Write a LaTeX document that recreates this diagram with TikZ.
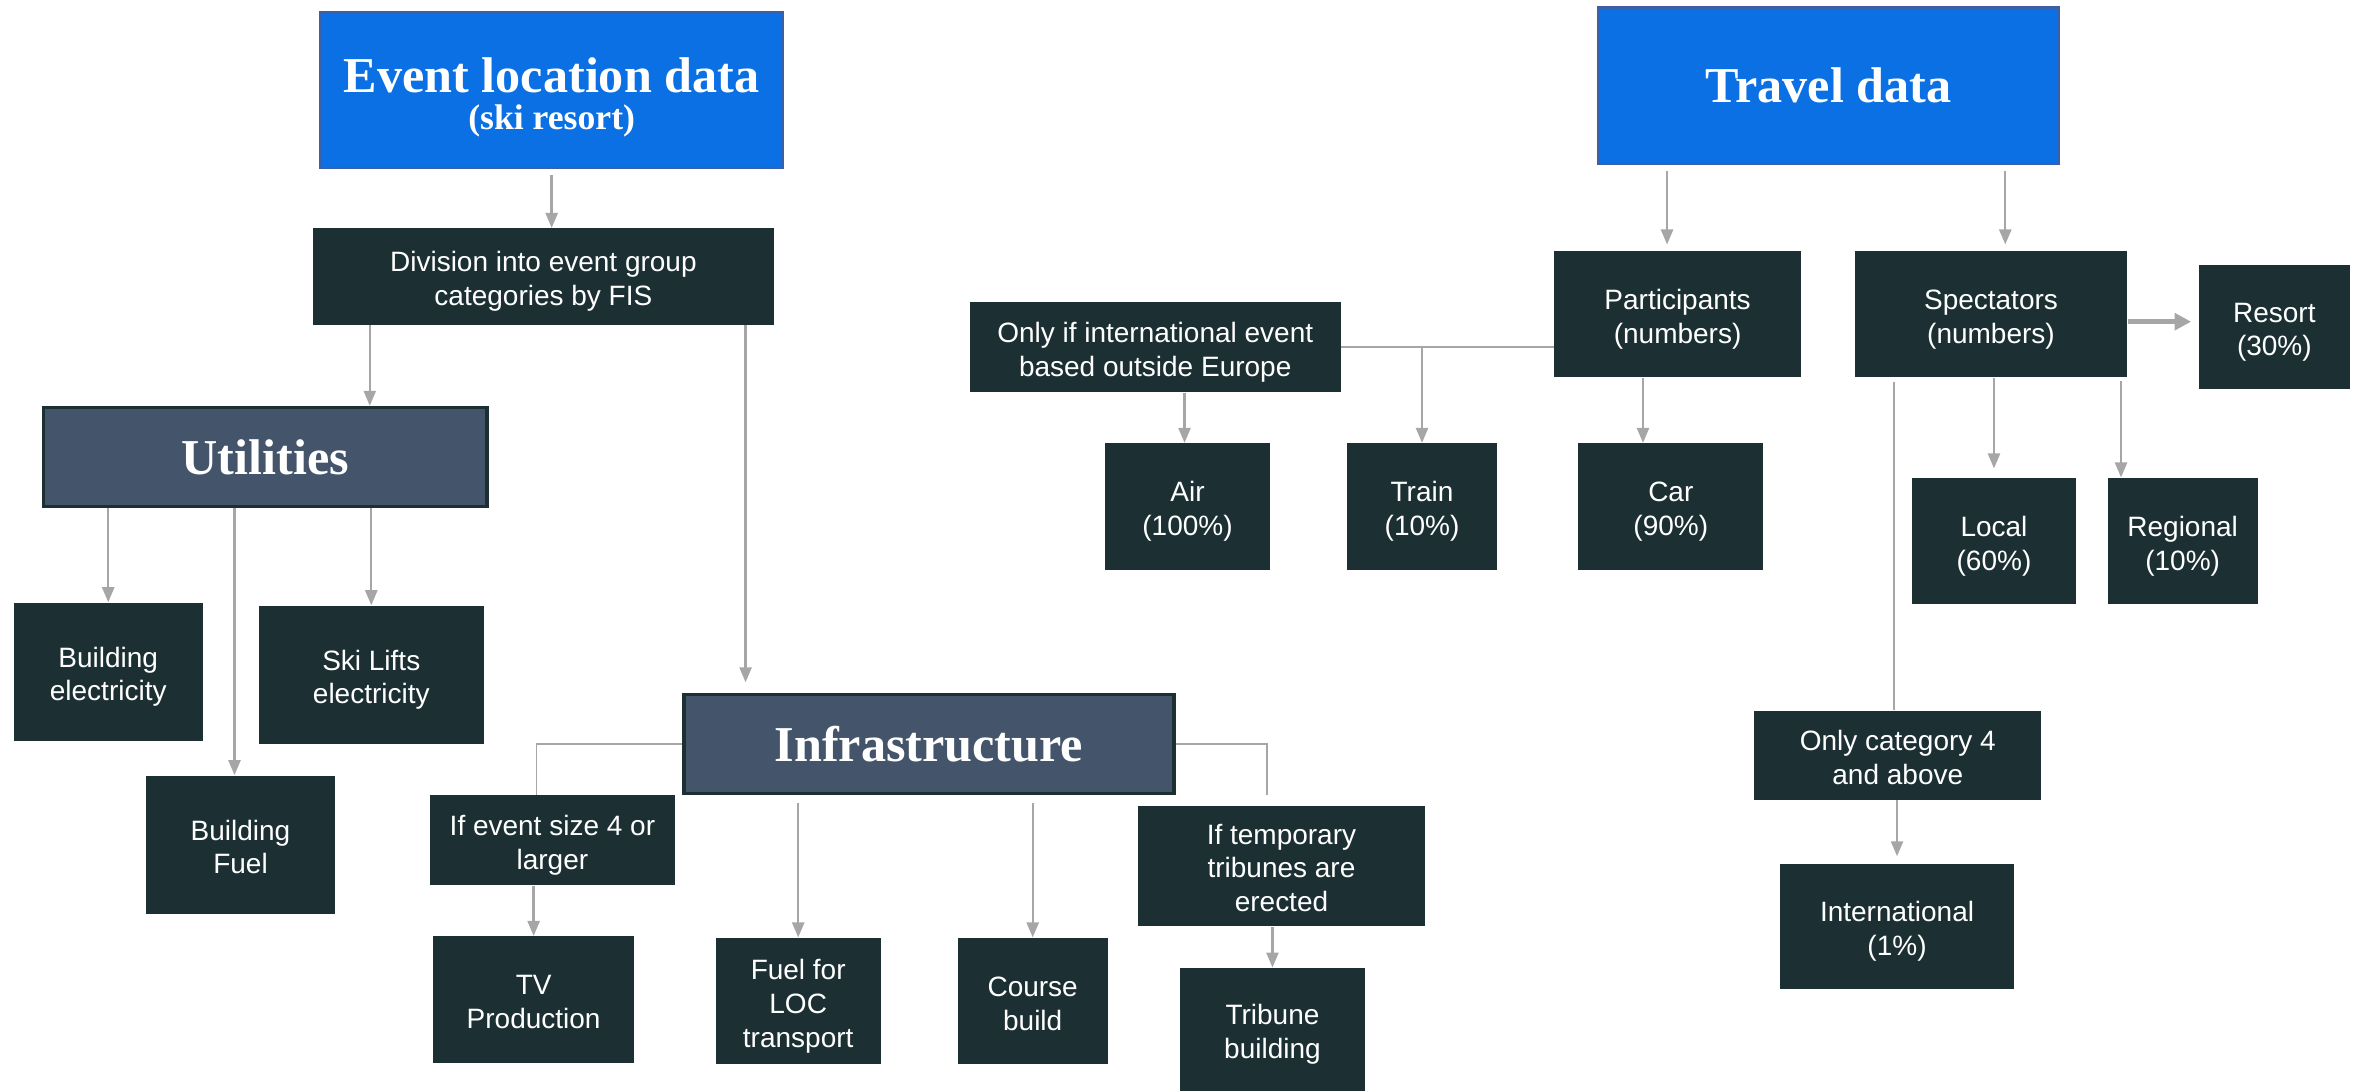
\documentclass[tikz,border=0pt]{standalone}
\usepackage{fontspec}
\setmainfont{Liberation Serif}
\setsansfont{Liberation Sans}
\usetikzlibrary{arrows.meta}

\definecolor{boxdark}{HTML}{1C3034}
\definecolor{boxslate}{HTML}{44546A}
\definecolor{boxblue}{HTML}{0B70E4}
\definecolor{boxblueline}{HTML}{3D5FA8}
\definecolor{linegray}{HTML}{A6A6A6}

\begin{document}
\begin{tikzpicture}[x=0.02cm, y=-0.02cm,
    wh/.style 2 args={minimum width=#1*0.02cm, minimum height=#2*0.02cm, text width=#1*0.02cm},
    leafbox/.style={fill=boxdark, text=white, inner sep=0pt, align=flush center,
        font=\sffamily\fontsize{10.6}{12.8}\selectfont,
        execute at begin node={\rule{0pt}{11.5pt}},
        execute at end node={\rule[-2.3pt]{0pt}{2.3pt}}},
    databox/.style={fill=boxblue, draw=boxblueline, line width=0.8pt, text=white,
        inner sep=0pt, align=flush center, font=\bfseries\fontsize{19}{22}\selectfont},
    groupbox/.style={fill=boxslate, draw=boxdark, line width=1.2pt, text=white,
        inner sep=0pt, align=flush center, font=\bfseries\fontsize{19}{22}\selectfont},
    conn/.style={draw=linegray, line width=0.9pt, -{Triangle[length=0.2cm,width=0.16cm]}},
    fatconn/.style={draw=linegray, line width=1.8pt, -{Triangle[length=0.22cm,width=0.22cm]}},
    link/.style={draw=linegray, line width=0.6pt}]

    \useasboundingbox (0,0) rectangle (1568,726);

    \node[databox, wh={308}{104}] (evt) at (367,60)
        {\rule{0pt}{18.5pt}Event location data\\[-8pt]{\fontsize{13.5}{16}\selectfont (ski resort)}};
    \node[leafbox, wh={307}{64}] (div) at (361.5,184) {Division into event group\\categories by FIS};
    \node[groupbox, wh={295}{66}] (util) at (176.5,304) {Utilities};
    \node[leafbox, wh={126}{92}] (belec) at (72,447) {Building\\electricity};
    \node[leafbox, wh={150}{92}] (slift) at (247,449) {Ski Lifts\\electricity};
    \node[leafbox, wh={126}{92}] (bfuel) at (160,562) {Building\\Fuel};
    \node[groupbox, wh={326}{66}] (infra) at (618,495) {Infrastructure};
    \node[leafbox, wh={163}{60}] (size) at (367.5,559) {If event size 4 or\\larger};
    \node[leafbox, wh={134}{84}] (tv) at (355,665) {TV\\Production};
    \node[leafbox, wh={110}{84}] (loc) at (531,666) {Fuel for\\LOC\\transport};
    \node[leafbox, wh={100}{84}] (course) at (687,666) {Course\\build};
    \node[leafbox, wh={191}{80}] (tempt) at (852.5,576) {If temporary\\tribunes are\\erected};
    \node[leafbox, wh={123}{82}] (tribb) at (846.5,685) {Tribune\\building};

    \draw[conn, shorten <=0.08cm] (evt.south) -- (div.north -| evt.south);
    \draw[conn] (div.south -| 246,0) -- (util.north -| 246,0);
    \draw[conn, shorten >=0.14cm] (div.south -| 496,0) -- (infra.north -| 496,0);
    \draw[conn] (util.south -| belec.north) -- (belec.north);
    \draw[conn] (util.south -| 156,0) -- (bfuel.north -| 156,0);
    \draw[conn] (util.south -| slift.north) -- (slift.north);
    \draw[link] (infra.west) -| (size.north -| 357,0);
    \draw[conn] (size.south -| tv.north) -- (tv.north);
    \draw[conn, shorten <=0.1cm] (infra.south -| loc.north) -- (loc.north);
    \draw[conn, shorten <=0.1cm] (infra.south -| course.north) -- (course.north);
    \draw[link] (infra.east) -| (infra.south -| 843,0);
    \draw[conn] (tempt.south -| tribb.north) -- (tribb.north);

    \node[databox, wh={307}{104}] (travel) at (1216.5,57) {Travel data};
    \node[leafbox, wh={164}{84}] (part) at (1116,209) {Participants\\(numbers)};
    \node[leafbox, wh={181}{84}] (spec) at (1324.5,209) {Spectators\\(numbers)};
    \node[leafbox, wh={100}{83}] (resort) at (1513,217.5) {Resort\\(30\%)};
    \node[leafbox, wh={247}{60}] (abroad) at (768.5,231) {Only if international event\\based outside Europe};
    \node[leafbox, wh={110}{84}] (air) at (790,337) {Air\\(100\%)};
    \node[leafbox, wh={100}{84}] (train) at (946,337) {Train\\(10\%)};
    \node[leafbox, wh={123}{84}] (car) at (1111.5,337) {Car\\(90\%)};
    \node[leafbox, wh={109}{84}] (local) at (1326.5,360) {Local\\(60\%)};
    \node[leafbox, wh={100}{84}] (region) at (1452,360) {Regional\\(10\%)};
    \node[leafbox, wh={191}{59}] (cat4) at (1262.5,502.5) {Only category 4\\and above};
    \node[leafbox, wh={156}{83}] (intl) at (1262,616.5) {International\\(1\%)};

    \draw[conn, shorten <=0.08cm, shorten >=0.08cm] (travel.south -| 1109,0) -- (part.north -| 1109,0);
    \draw[conn, shorten <=0.08cm, shorten >=0.08cm] (travel.south -| 1334,0) -- (spec.north -| 1334,0);
    \draw[fatconn, shorten >=0.1cm] (spec.east |- 0,214) -- (resort.west |- 0,214);
    \draw[link] (part.west |- abroad.east) -- (abroad.east);
    \draw[conn] (train.north |- abroad.east) -- (train.north);
    \draw[conn] (abroad.south -| 788,0) -- (air.north -| 788,0);
    \draw[conn] (part.south -| 1093,0) -- (car.north -| 1093,0);
    \draw[conn, shorten >=0.12cm] (spec.south -| local.north) -- (local.north);
    \draw[conn, shorten <=0.04cm] (spec.south -| 1411,0) -- (region.north -| 1411,0);
    \draw[link, shorten <=0.06cm] (spec.south -| 1260,0) -- (cat4.north -| 1260,0);
    \draw[conn, shorten >=0.1cm] (cat4.south -| intl.north) -- (intl.north);
\end{tikzpicture}
\end{document}
